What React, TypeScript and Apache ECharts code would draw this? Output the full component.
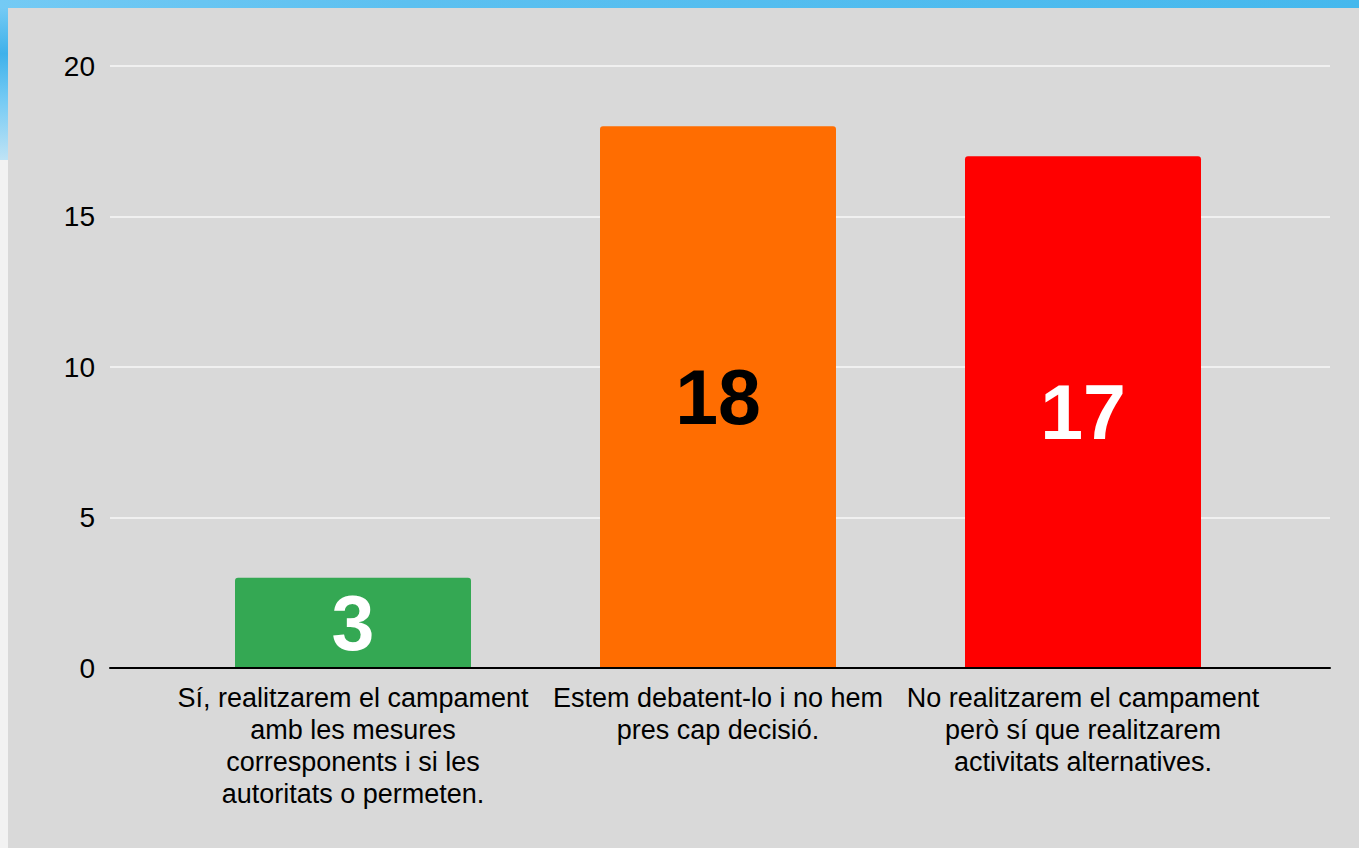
import React, { useEffect, useRef } from "react";
import * as echarts from "echarts";

const categories = [
  "Sí, realitzarem el campament\namb les mesures\ncorresponents i si les\nautoritats o permeten.",
  "Estem debatent-lo i no hem\npres cap decisió.",
  "No realitzarem el campament\nperò sí que realitzarem\nactivitats alternatives.",
];
const values = [3, 18, 17];
const barColors = ["#34a853", "#ff6d01", "#ff0000"];
const labelColors = ["#ffffff", "#000000", "#ffffff"];
const yTicks = { min: 0, max: 20, interval: 5 };

export default function App() {
  const ref = useRef<HTMLDivElement>(null);
  useEffect(() => {
    if (!ref.current) return;
    const chart = echarts.init(ref.current, null, { renderer: "svg" });
    const font = "'Liberation Sans', Arial, sans-serif";
    chart.setOption({
      animation: false,
      backgroundColor: "#d9d9d9",
      textStyle: { fontFamily: font },
      graphic: [
        {
          type: "rect",
          shape: { x: 0, y: 0, width: 1359, height: 8 },
          style: {
            fill: new echarts.graphic.LinearGradient(0, 0, 1, 0, [
              { offset: 0, color: "#74caf4" },
              { offset: 0.3, color: "#5cc0f0" },
              { offset: 1, color: "#45b8ed" },
            ]),
          },
          silent: true,
        },
        {
          type: "rect",
          shape: { x: 0, y: 8, width: 8, height: 840 },
          style: { fill: "#f2f2f2" },
          silent: true,
        },
        {
          type: "rect",
          shape: { x: 0, y: 8, width: 8, height: 152 },
          style: {
            fill: new echarts.graphic.LinearGradient(0, 0, 0, 1, [
              { offset: 0, color: "#74caf4" },
              { offset: 0.3, color: "#3fb1ea" },
              { offset: 0.6, color: "#74caf4" },
              { offset: 1, color: "#bfe3f5" },
            ]),
          },
          silent: true,
        },
      ],
      grid: [
        { left: 110, right: 29, top: 66, bottom: 180 },
        { left: 170.5, right: 93.5, top: 66, bottom: 180 },
      ],
      xAxis: [
        {
          type: "category",
          gridIndex: 0,
          data: ["a"],
          axisLine: { show: true, lineStyle: { color: "#000000", width: 2 } },
          axisTick: { show: false },
          axisLabel: { show: false },
          splitLine: { show: false },
          z: 5,
        },
        {
          type: "category",
          gridIndex: 1,
          data: categories,
          axisLine: { show: false },
          axisTick: { show: false },
          axisLabel: {
            interval: 0,
            color: "#000000",
            fontSize: 27,
            lineHeight: 32,
            margin: 14,
            fontFamily: font,
            align: "center",
          },
        },
      ],
      yAxis: [
        {
          type: "value",
          gridIndex: 0,
          min: yTicks.min,
          max: yTicks.max,
          interval: yTicks.interval,
          axisLine: { show: false },
          axisTick: { show: false },
          axisLabel: { color: "#000000", fontSize: 28, margin: 15, fontFamily: font },
          splitLine: { show: true, lineStyle: { color: "#f0f0f0", width: 2 } },
        },
        {
          type: "value",
          gridIndex: 1,
          min: yTicks.min,
          max: yTicks.max,
          interval: yTicks.interval,
          axisLine: { show: false },
          axisTick: { show: false },
          axisLabel: { show: false },
          splitLine: { show: false },
        },
      ],
      series: [
        {
          type: "bar",
          xAxisIndex: 1,
          yAxisIndex: 1,
          barWidth: 236,
          z: 3,
          data: values.map((v, i) => ({
            value: v,
            itemStyle: { color: barColors[i], borderRadius: [3, 3, 0, 0] },
            label: {
              show: true,
              position: "inside",
              color: labelColors[i],
              fontSize: 77,
              fontWeight: "bold",
              fontFamily: font,
            },
          })),
        },
      ],
    });
    return () => chart.dispose();
  }, []);
  return (
    <div
      ref={ref}
      style={{ position: "fixed", left: 0, top: 0, width: 1359, height: 848 }}
    />
  );
}
